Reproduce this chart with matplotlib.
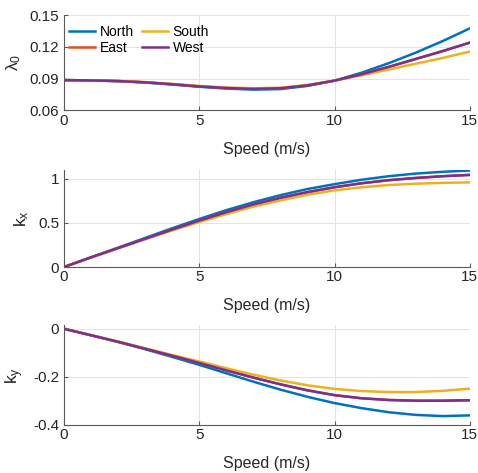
import matplotlib.pyplot as plt

plt.rcParams["font.family"] = ["Liberation Sans", "DejaVu Sans"]
plt.rcParams["mathtext.default"] = "regular"

speed = list(range(16))

lam_north = [0.0885, 0.0882, 0.0875, 0.0862, 0.0843, 0.0822, 0.0805, 0.0795,
             0.0800, 0.0830, 0.0880, 0.0955, 0.1045, 0.1145, 0.1255, 0.1375]
lam_west = [0.0885, 0.0882, 0.0876, 0.0864, 0.0846, 0.0825, 0.0810, 0.0802,
            0.0808, 0.0835, 0.0880, 0.0940, 0.1010, 0.1085, 0.1160, 0.1240]
lam_south = [0.0885, 0.0883, 0.0877, 0.0866, 0.0849, 0.0830, 0.0815, 0.0808,
             0.0813, 0.0840, 0.0880, 0.0930, 0.0985, 0.1040, 0.1095, 0.1155]
lam_east = lam_west

kx_north = [0, 0.11, 0.22, 0.33, 0.44, 0.545, 0.645, 0.735, 0.815, 0.885,
            0.94, 0.99, 1.03, 1.06, 1.08, 1.095]
kx_west = [0, 0.11, 0.215, 0.32, 0.425, 0.527, 0.622, 0.71, 0.785, 0.85,
           0.905, 0.95, 0.985, 1.01, 1.03, 1.045]
kx_south = [0, 0.105, 0.21, 0.315, 0.415, 0.51, 0.60, 0.685, 0.755, 0.82,
            0.87, 0.905, 0.93, 0.945, 0.955, 0.96]
kx_east = kx_west

ky_north = [0, -0.027, -0.055, -0.085, -0.117, -0.150, -0.185, -0.220,
            -0.253, -0.283, -0.309, -0.330, -0.347, -0.358, -0.363, -0.360]
ky_west = [0, -0.027, -0.054, -0.083, -0.112, -0.142, -0.173, -0.203,
           -0.231, -0.256, -0.276, -0.289, -0.296, -0.299, -0.299, -0.297]
ky_south = [0, -0.026, -0.053, -0.081, -0.109, -0.136, -0.164, -0.191,
            -0.215, -0.235, -0.250, -0.259, -0.263, -0.263, -0.258, -0.249]
ky_east = ky_west

names = ["North", "East", "South", "West"]
colors = ["#0072BD", "#D95319", "#EDB120", "#7E2F8E"]

panels = [
    ("$\\lambda_0$", [lam_north, lam_east, lam_south, lam_west],
     (0.06, 0.15), [0.06, 0.09, 0.12, 0.15], ["0.06", "0.09", "0.12", "0.15"]),
    ("$k_x$", [kx_north, kx_east, kx_south, kx_west],
     (0, 1.1), [0, 0.5, 1], ["0", "0.5", "1"]),
    ("$k_y$", [ky_north, ky_east, ky_south, ky_west],
     (-0.4, 0.015), [-0.4, -0.2, 0], ["-0.4", "-0.2", "0"]),
]
# axes rectangles in figure fraction
rects = [
    (0.134, 0.767, 0.849, 0.201),
    (0.134, 0.4355, 0.849, 0.205),
    (0.134, 0.1015, 0.849, 0.211),
]

fig = plt.figure(figsize=(4.78, 4.73), dpi=100)

for i, (rect, (ylab, series, ylim, yt, ytl)) in enumerate(zip(rects, panels)):
    ax = fig.add_axes(rect)
    for name, col, ys in zip(names, colors, series):
        ax.plot(speed, ys, color=col, lw=1.8, label=name)
    ax.set_xlim(0, 15)
    ax.set_ylim(*ylim)
    ax.set_xticks([0, 5, 10, 15])
    ax.set_yticks(yt)
    ax.set_yticklabels(ytl)
    ax.grid(True, color="#e3e3e3", lw=0.7)
    ax.set_axisbelow(True)
    for s in ["top", "right"]:
        ax.spines[s].set_visible(False)
    for s in ["left", "bottom"]:
        ax.spines[s].set_color("#5a5a5a")
        ax.spines[s].set_linewidth(0.8)
    ax.tick_params(direction="in", length=3, color="#5a5a5a",
                   labelsize=11, labelcolor="#262626")
    ax.tick_params(axis="x", pad=2.5)
    ax.tick_params(axis="y", pad=3.5)
    ax.set_xlabel("Speed (m/s)", fontsize=11.5, color="#262626", labelpad=10)
    ax.set_ylabel(ylab, fontsize=12.5, color="#262626", labelpad=5)

    if i == 0:
        ax.legend(loc="upper left", ncol=2, frameon=False, fontsize=10,
                  handlelength=1.9, handletextpad=0.3, columnspacing=0.6,
                  labelspacing=0.15, borderaxespad=0.1,
                  bbox_to_anchor=(-0.005, 0.97))

fig.savefig("out.png", dpi=100)
